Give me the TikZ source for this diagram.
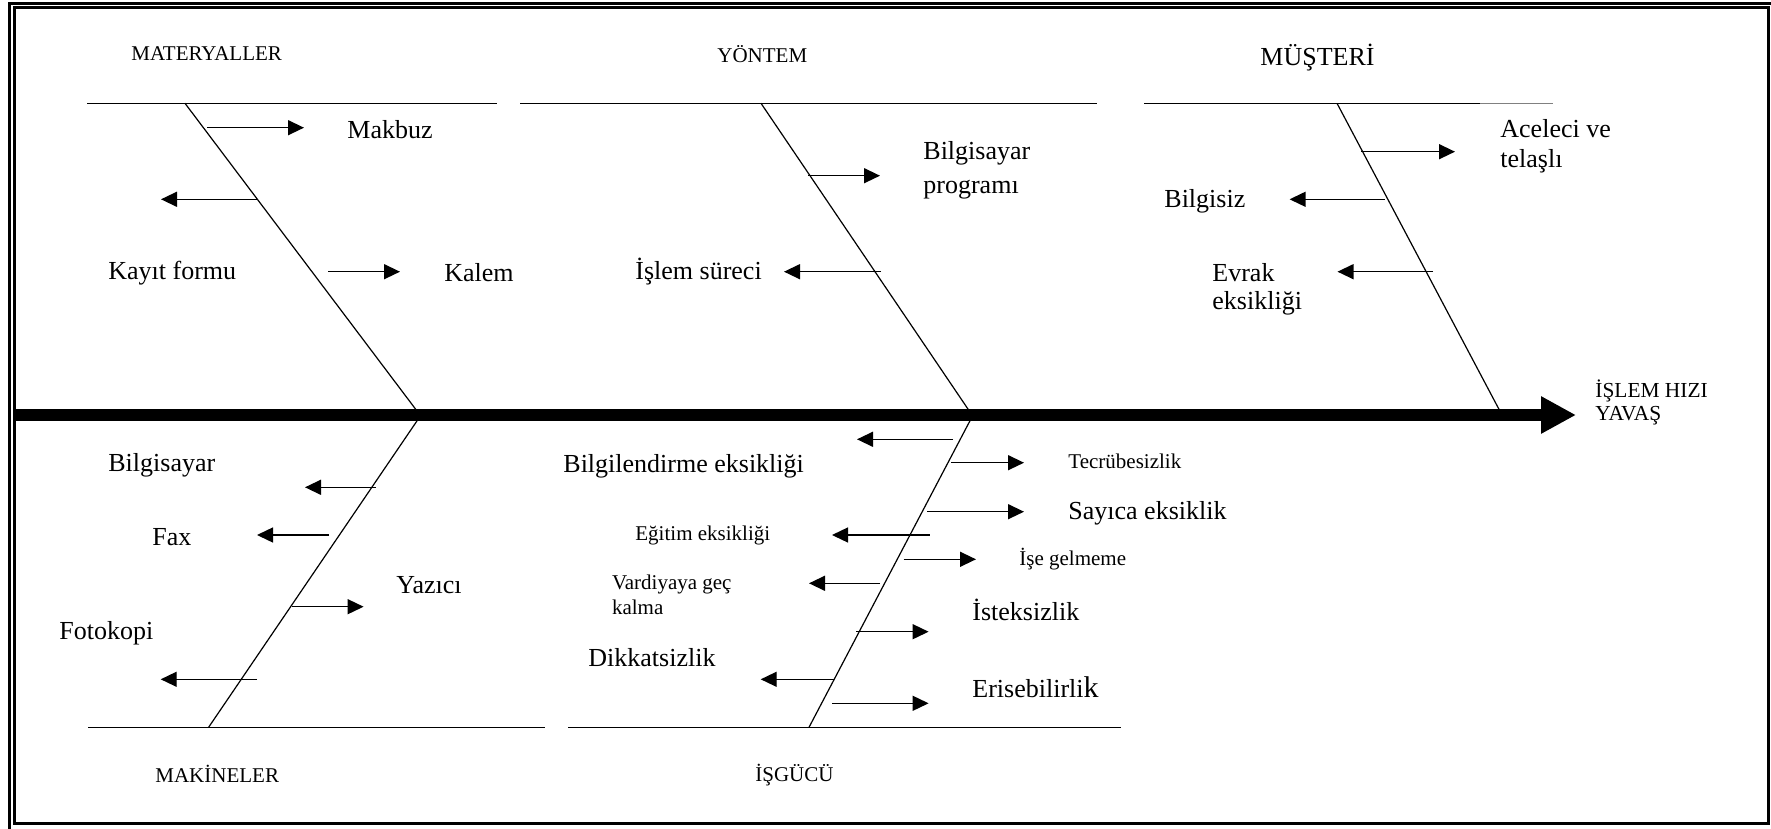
\documentclass[tikz,border=0pt]{standalone}
\usepackage{fontspec}
\setmainfont{Liberation Serif}
\usetikzlibrary{arrows.meta}

\tikzset{
  frameline/.style={line width=1.4pt},
  headline/.style={line width=0.7pt},
  boneline/.style={line width=0.6pt},
  ribarrow/.style={line width=0.7pt, -{Triangle[length=8pt,width=7.5pt]}},
  spinearrow/.style={line width=5.85pt, -{Triangle[length=17.5pt,width=17.5pt]}},
  biglbl/.style={anchor=west, inner sep=0pt, align=left, font=\fontsize{13}{15}\selectfont},
  smalllbl/.style={anchor=west, inner sep=0pt, align=left, font=\fontsize{10.5}{12.3}\selectfont},
  catlbl/.style={anchor=west, inner sep=0pt, font=\fontsize{10.5}{12.3}\selectfont},
}

\begin{document}
\begin{tikzpicture}[x=0.5pt,y=-0.5pt]
\useasboundingbox (0,0) rectangle (1771,829);

% double frame
\draw[line width=1.5pt] (9.5,829) -- (9.5,3.7) -- (1771,3.7);
\draw[frameline] (14.7,7.3) rectangle (1768.3,823.8);

% category head lines (top row)
\draw[headline] (87,103.3) coordinate (h1a) -- (497,103.3) coordinate (h1b);
\draw[headline] (520,103.3) coordinate (h2a) -- (1096.5,103.3) coordinate (h2b);
\draw[headline] (1144,103.3) coordinate (h3a) -- (1480,103.3) coordinate (h3b);
\draw[line width=0.4pt, gray] (h3b) -- (1553,103.3) coordinate (h3c);

% category head lines (bottom row)
\draw[headline] (88,727.3) coordinate (f1a) -- (544.6,727.3) coordinate (f1b);
\draw[headline] (568,727.3) coordinate (f2a) -- (1120.5,727.3) coordinate (f2b);

% main bones
\coordinate (matTop) at (185,103.3);   \coordinate (matFoot) at (420,415);
\coordinate (yonTop) at (761,103.3);   \coordinate (yonFoot) at (972,415);
\coordinate (musTop) at (1337,103.3);  \coordinate (musFoot) at (1502,415);
\coordinate (makFoot) at (421,415);    \coordinate (makEnd) at (208.6,727.3);
\coordinate (isgFoot) at (973,415);    \coordinate (isgEnd) at (809,727.3);
\draw[boneline] (matTop) -- (matFoot);
\draw[boneline] (yonTop) -- (yonFoot);
\draw[boneline] (musTop) -- (musFoot);
\draw[boneline] (makFoot) -- (makEnd);
\draw[boneline] (isgFoot) -- (isgEnd);

% spine
\coordinate (spineL) at (16,415);
\coordinate (spineR) at (1576,415);
\draw[spinearrow] (spineL) -- (spineR);

% cause arrows
\foreach \n/\xa/\xb/\yy in {
  ma/207/304/127.7, mb/257/161/199.3, mc/328/400/271.7,
  ya/808/880/175.7, yb/881/784/271.7,
  ua/1361/1455/151.7, ub/1384.5/1289.6/199.3, uc/1433/1337.5/271.7,
  ka/376/305/487.3, kb/329/257/535, kc/292/363.6/606.7, kd/257/160.7/679.3,
  ga/953/857/439.3, gb/951/1024/462.7, gc/927/1024/511.7, gd/929.5/832/535,
  ge/903.6/976/559.3, gf/880/809/583.3, gg/856/928.6/631.7,
  gh/833.5/760.7/679.3, gi/832/928.6/703.3}
{
  \coordinate (\n s) at (\xa,\yy);
  \coordinate (\n e) at (\xb,\yy);
  \draw[ribarrow] (\n s) -- (\n e);
}

% category titles
\node[catlbl] (tMat) at (131,54) {MATERYALLER};
\node[catlbl] (tYon) at (717,54) {YÖNTEM};
\node[catlbl, font=\fontsize{13}{15}\selectfont] (tMus) at (1260,58) {MÜŞTERİ};
\node[catlbl] (tMak) at (155,774) {MAKİNELER};
\node[catlbl] (tIsg) at (755,775) {İŞGÜCÜ};

% effect
\node[smalllbl, font=\fontsize{10.7}{11.8}\selectfont] (effect) at (1595,402.5) {İŞLEM HIZI\\YAVAŞ};

% materials
\node[biglbl] (makbuz) at (347,130) {Makbuz};
\node[biglbl] (kayit) at (108,273) {Kayıt formu};
\node[biglbl] (kalem) at (444,273) {Kalem};

% method
\node[biglbl, font=\fontsize{13}{17}\selectfont] (bprog) at (923,170) {Bilgisayar\\programı};
\node[biglbl] (islem) at (635,272) {İşlem süreci};

% customer
\node[biglbl] (acele) at (1500,146.7) {Aceleci ve\\telaşlı};
\node[biglbl] (bilgisiz) at (1164,201.7) {Bilgisiz};
\node[biglbl, font=\fontsize{13}{14}\selectfont] (evrak) at (1212,289) {Evrak\\eksikliği};

% machines
\node[biglbl] (bilgisayar) at (108,465) {Bilgisayar};
\node[biglbl] (fax) at (152,537) {Fax};
\node[biglbl] (yazici) at (396,585) {Yazıcı};
\node[biglbl] (fotokopi) at (59,633) {Fotokopi};

% workforce
\node[biglbl] (bilgilendirme) at (563,466) {Bilgilendirme eksikliği};
\node[smalllbl] (tecrube) at (1068,461.7) {Tecrübesizlik};
\node[biglbl] (sayica) at (1068,513) {Sayıca eksiklik};
\node[smalllbl] (egitim) at (635,535) {Eğitim eksikliği};
\node[smalllbl] (isegel) at (1019,559) {İşe gelmeme};
\node[smalllbl] (vardiya) at (611.6,595) {Vardiyaya geç\\kalma};
\node[biglbl] (isteksiz) at (972,610) {İsteksizlik};
\node[biglbl] (dikkat) at (588,658) {Dikkatsizlik};
\node[biglbl] (erisim) at (972,687) {Erisebilirli{\fontsize{15}{15}\selectfont k}};
\end{tikzpicture}
\end{document}
